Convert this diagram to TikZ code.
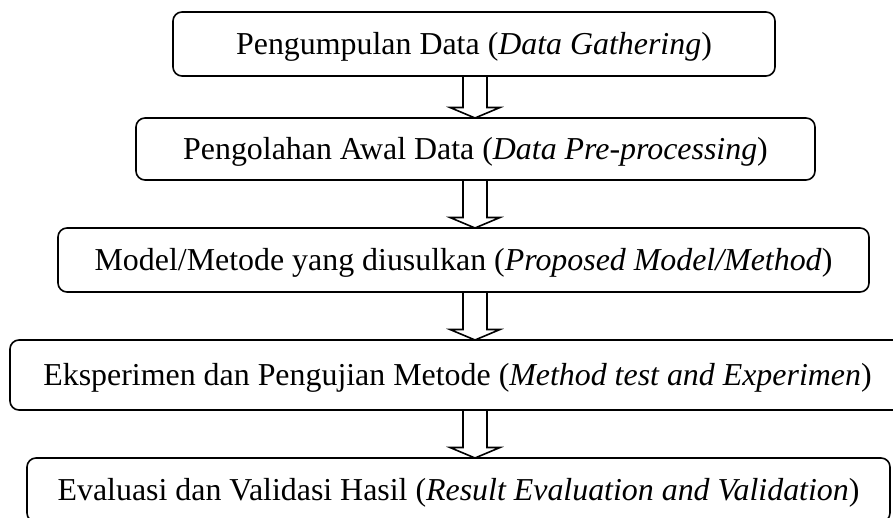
\documentclass[tikz,border=0pt]{standalone}
\usepackage{fontspec}
\setmainfont{Liberation Serif}
\usetikzlibrary{calc}
\newcommand{\flowarrow}[2]{%
  \draw[blockarr] ($(ax |- #1.south)+(-12,0)$) -- ($(ax |- #2.north)+(-12,-10.5)$) -- ++(-13,0) -- (ax |- #2.north) -- ++(25,-10.5) -- ++(-13,0) -- ($(ax |- #1.south)+(12,0)$);}
\begin{document}
\begin{tikzpicture}[x=1pt,y=-1pt,
  stepbox/.style={draw, line width=1.6pt, rounded corners=9pt, inner sep=0pt, outer sep=0pt,
    text height=21pt, text depth=0pt, font=\fontsize{31.9}{38}\selectfont},
  blockarr/.style={draw, line width=1.6pt, line join=miter}]
\useasboundingbox (0,0) rectangle (893,518);
\clip (0,0) rectangle (893,518);
\coordinate (ax) at (475,0);
\node[stepbox, minimum width=602pt, minimum height=64pt] (b1) at (474,44) {Pengumpulan Data (\textit{Data Gathering})};
\node[stepbox, minimum width=679pt, minimum height=62pt] (b2) at (475.5,149) {Pengolahan Awal Data (\textit{Data Pre-processing})};
\node[stepbox, minimum width=811pt, minimum height=64pt] (b3) at (463.5,260) {Model/Metode yang diusulkan (\textit{Proposed Model/Method})};
\node[stepbox, minimum width=895pt, minimum height=70pt] (b4) at (457.5,375) {Eksperimen dan Pengujian Metode (\textit{Method test and Experimen})};
\node[stepbox, minimum width=863pt, minimum height=64pt] (b5) at (458.5,490) {Evaluasi dan Validasi Hasil (\textit{Result Evaluation and Validation})};
\flowarrow{b1}{b2}
\flowarrow{b2}{b3}
\flowarrow{b3}{b4}
\flowarrow{b4}{b5}
\end{tikzpicture}
\end{document}
